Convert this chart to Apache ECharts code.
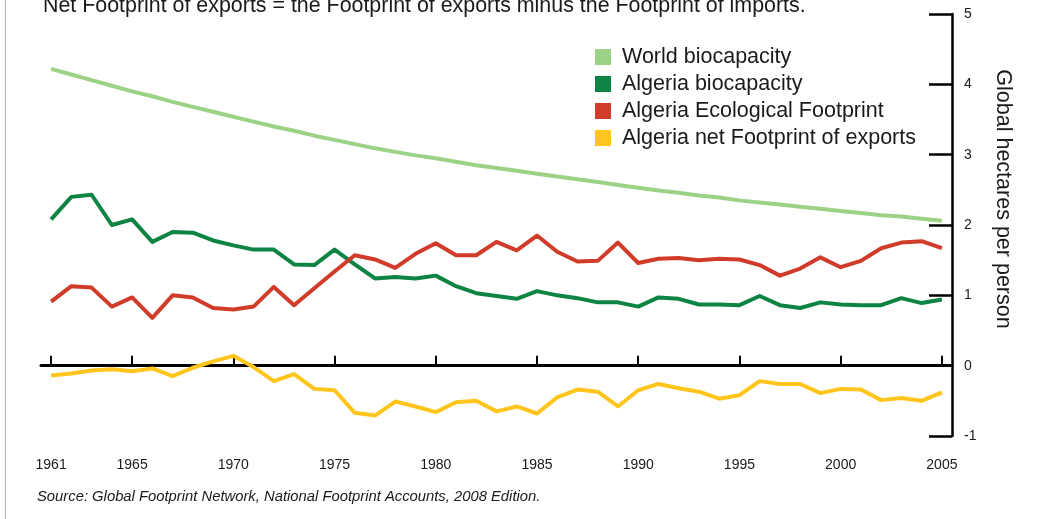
<!DOCTYPE html>
<html>
<head>
<meta charset="utf-8">
<title>Algeria footprint</title>
<script src="https://cdn.jsdelivr.net/npm/echarts@6/dist/echarts.min.js"></script>
<style>
  html, body { margin: 0; padding: 0; background: #fff; }
  #main { width: 1055px; height: 519px; }
</style>
</head>
<body>
<div id="main"></div>
<script>
// years 1961..2005
var years = [];
for (var y = 1961; y <= 2005; y++) years.push(String(y));
var tickYears = ['1961','1965','1970','1975','1980','1985','1990','1995','2000','2005'];

var worldBio = [4.22,4.14,4.06,3.98,3.90,3.83,3.75,3.68,3.61,3.54,
  3.47,3.40,3.34,3.27,3.21,3.15,3.09,3.04,2.99,2.95,
  2.90,2.85,2.81,2.77,2.73,2.69,2.65,2.61,2.57,2.53,
  2.49,2.46,2.42,2.39,2.35,2.32,2.29,2.26,2.23,2.20,
  2.17,2.14,2.12,2.09,2.06];
var algeriaBio = [2.08,2.40,2.43,2.00,2.08,1.76,1.90,1.89,1.78,1.71,
  1.65,1.65,1.44,1.43,1.65,1.44,1.24,1.26,1.24,1.28,
  1.13,1.03,0.99,0.95,1.06,1.00,0.96,0.90,0.90,0.84,
  0.97,0.95,0.87,0.87,0.86,0.99,0.86,0.82,0.90,0.87,
  0.86,0.86,0.96,0.89,0.94];
var algeriaFoot = [0.91,1.13,1.11,0.84,0.97,0.68,1.00,0.97,0.82,0.80,
  0.84,1.12,0.86,1.10,1.34,1.57,1.51,1.39,1.59,1.74,
  1.57,1.57,1.76,1.64,1.85,1.62,1.48,1.49,1.75,1.46,
  1.52,1.53,1.50,1.52,1.51,1.43,1.28,1.38,1.54,1.40,
  1.49,1.67,1.75,1.77,1.67];
var netExports = [-0.14,-0.11,-0.07,-0.05,-0.08,-0.04,-0.15,-0.03,0.06,0.14,
  -0.02,-0.22,-0.12,-0.33,-0.35,-0.67,-0.71,-0.51,-0.58,-0.66,
  -0.52,-0.50,-0.65,-0.58,-0.68,-0.45,-0.34,-0.37,-0.58,-0.35,
  -0.26,-0.32,-0.37,-0.47,-0.42,-0.22,-0.26,-0.26,-0.39,-0.33,
  -0.34,-0.49,-0.46,-0.50,-0.38];

var font = 'Liberation Sans, Arial, sans-serif';
var showYear = function (idx, val) { return tickYears.indexOf(String(val)) >= 0 || tickYears.indexOf(years[idx]) >= 0; };

var chart = echarts.init(document.getElementById('main'));

function line(name, data, color) {
  return {
    name: name, type: 'line', data: data,
    symbol: 'none', smooth: false,
    lineStyle: { color: color, width: 4, join: 'round' },
    itemStyle: { color: color },
    animation: false
  };
}

// grid 14..436 for -1..5 -> zero line sits 70.33px above the bottom
var zeroOffset = -(436 - 14) / 6;

chart.setOption({
  backgroundColor: '#fff',
  animation: false,
  grid: { left: 41, right: 103, top: 14, bottom: 83, outerBoundsMode: 'none', containLabel: false },
  legend: {
    orient: 'vertical',
    left: 590, top: 41,
    icon: 'rect',
    itemWidth: 16, itemHeight: 16, itemGap: 5,
    textStyle: { fontFamily: font, fontSize: 21.5, color: '#1a1a1a', padding: [0, 0, 0, 6] },
    data: ['World biocapacity', 'Algeria biocapacity', 'Algeria Ecological Footprint', 'Algeria net Footprint of exports']
  },
  xAxis: [{
    // year labels along the bottom
    type: 'category',
    data: years,
    boundaryGap: true,
    position: 'bottom',
    axisLine: { show: false, onZero: false },
    axisTick: { show: false },
    axisLabel: { interval: showYear, margin: 22, color: '#1a1a1a', fontFamily: font, fontSize: 14 },
    splitLine: { show: false }
  }, {
    // the zero line with its ticks
    type: 'category',
    data: years,
    boundaryGap: true,
    position: 'bottom',
    offset: zeroOffset,
    axisLine: { show: true, onZero: false, lineStyle: { color: '#000', width: 3 } },
    axisTick: { show: true, inside: true, alignWithLabel: true, interval: showYear, length: 10, lineStyle: { color: '#000', width: 2 } },
    axisLabel: { show: false, interval: showYear },
    splitLine: { show: false }
  }],
  yAxis: {
    type: 'value',
    position: 'right',
    min: -1, max: 5, interval: 1,
    axisLine: { show: true, lineStyle: { color: '#000', width: 2.5 } },
    axisTick: { show: true, inside: true, length: 23, lineStyle: { color: '#000', width: 2.5 } },
    axisLabel: { margin: 12, color: '#1a1a1a', fontFamily: font, fontSize: 14 },
    splitLine: { show: false }
  },
  series: [
    line('World biocapacity', worldBio, '#9cd286'),
    line('Algeria biocapacity', algeriaBio, '#0d8443'),
    line('Algeria Ecological Footprint', algeriaFoot, '#d13b2a'),
    line('Algeria net Footprint of exports', netExports, '#ffc51d')
  ],
  graphic: [
    { type: 'line', shape: { x1: 5.5, y1: 0, x2: 5.5, y2: 519 }, style: { stroke: '#b0b0b0', lineWidth: 1 } },
    { type: 'text', x: 43, y: 6,
      style: { text: 'Net Footprint of exports = the Footprint of exports minus the Footprint of imports.',
        fontFamily: font, fontSize: 21.4, fill: '#1a1a1a', textVerticalAlign: 'middle' } },
    { type: 'text', x: 1003, y: 199, rotation: -Math.PI / 2,
      style: { text: 'Global hectares per person', fontFamily: font, fontSize: 21.5, fill: '#1a1a1a',
        textAlign: 'center', textVerticalAlign: 'middle' } },
    { type: 'text', x: 37, y: 497,
      style: { text: 'Source: Global Footprint Network, National Footprint Accounts, 2008 Edition.',
        fontFamily: font, fontSize: 14.8, fontStyle: 'italic', fill: '#1a1a1a', textVerticalAlign: 'middle' } }
  ]
});
</script>
</body>
</html>
